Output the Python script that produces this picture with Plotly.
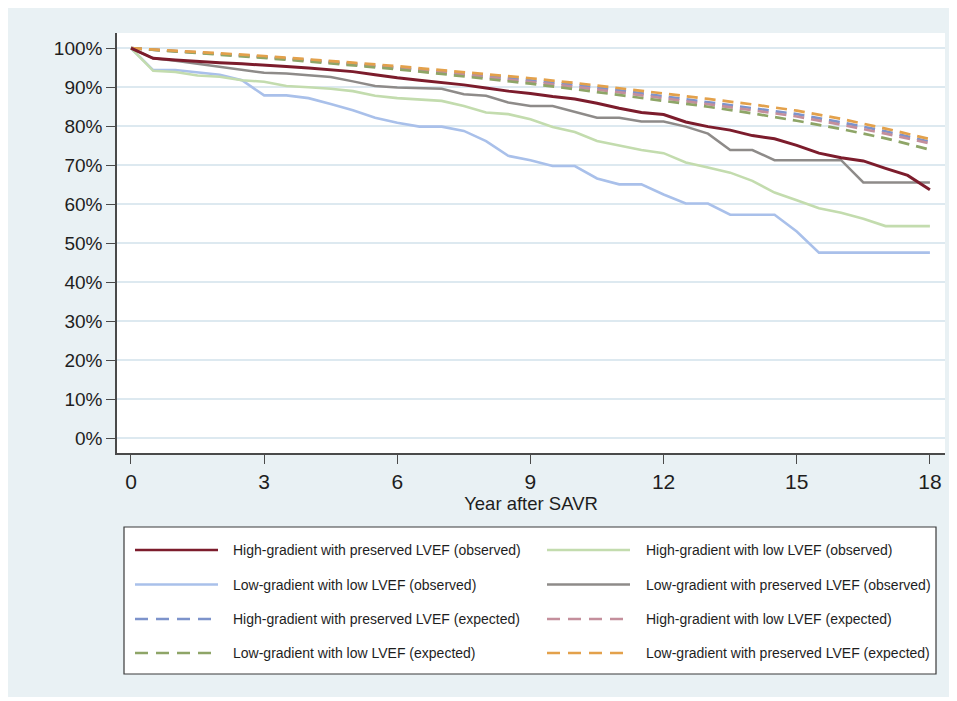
import plotly.graph_objects as go

# ---------------- data ----------------
years_obs = [0, 0.5, 1, 1.5, 2, 2.5, 3, 3.5, 4, 4.5, 5, 5.5, 6, 6.5, 7, 7.5, 8, 8.5, 9,
             9.5, 10, 10.5, 11, 11.5, 12, 12.5, 13, 13.5, 14, 14.5, 15, 15.5, 16, 16.5,
             17, 17.5, 18]

hg_pres_obs = [100, 97.4, 97.0, 96.6, 96.3, 96.0, 95.7, 95.3, 94.9, 94.5, 94.0, 93.2, 92.4,
               91.8, 91.2, 90.6, 89.8, 89.0, 88.4, 87.6, 87.0, 85.9, 84.6, 83.5, 83.0, 81.1,
               79.9, 79.0, 77.6, 76.8, 75.1, 73.1, 71.9, 71.1, 69.2, 67.4, 63.7]
hg_low_obs = [100, 94.2, 93.9, 93.0, 92.7, 91.8, 91.4, 90.3, 90.0, 89.6, 89.0, 87.8, 87.2,
              86.8, 86.5, 85.2, 83.5, 83.1, 81.8, 79.8, 78.5, 76.2, 75.0, 73.9, 73.1, 70.7,
              69.4, 68.1, 66.0, 63.0, 61.0, 59.0, 57.8, 56.3, 54.4, 54.4, 54.4]
lg_low_obs = [100, 94.4, 94.4, 93.8, 93.2, 91.8, 87.9, 87.9, 87.2, 85.7, 84.1, 82.2, 80.9,
              79.9, 79.9, 78.8, 76.2, 72.4, 71.3, 69.8, 69.8, 66.6, 65.1, 65.1, 62.5, 60.2,
              60.2, 57.3, 57.3, 57.3, 53.0, 47.6, 47.6, 47.6, 47.6, 47.6, 47.6]
lg_pres_obs = [100, 97.4, 96.8, 96.0, 95.3, 94.4, 93.7, 93.5, 93.1, 92.6, 91.5, 90.3, 89.9,
               89.7, 89.6, 88.2, 87.8, 86.1, 85.2, 85.2, 83.7, 82.2, 82.2, 81.2, 81.2, 79.9,
               78.1, 73.9, 73.9, 71.3, 71.3, 71.3, 71.3, 65.6, 65.6, 65.6, 65.6]

years_exp = [0, 1, 2, 3, 4, 5, 6, 7, 8, 9, 10, 11, 12, 13, 14, 15, 16, 17, 18]
hg_pres_exp = [100, 99.3, 98.6, 97.8, 97.0, 96.0, 95.1, 94.0, 92.9, 91.8, 90.6, 89.2, 87.7,
               86.2, 84.7, 83.1, 81.0, 78.7, 76.0]
hg_low_exp = [100, 99.3, 98.5, 97.7, 96.8, 95.9, 94.9, 93.8, 92.6, 91.4, 90.1, 88.7, 87.2,
              85.7, 84.1, 82.5, 80.4, 78.1, 75.6]
lg_low_exp = [100, 99.2, 98.4, 97.5, 96.6, 95.6, 94.6, 93.4, 92.2, 90.9, 89.5, 88.0, 86.5,
              85.0, 83.3, 81.4, 79.3, 76.9, 74.0]
lg_pres_exp = [100, 99.4, 98.7, 98.0, 97.2, 96.3, 95.4, 94.4, 93.4, 92.3, 91.1, 89.8, 88.4,
               87.0, 85.6, 84.0, 81.9, 79.4, 76.7]

x_ticks = [0, 3, 6, 9, 12, 15, 18]
y_ticks = [0, 10, 20, 30, 40, 50, 60, 70, 80, 90, 100]
y_tick_labels = ["0%", "10%", "20%", "30%", "40%", "50%", "60%", "70%", "80%", "90%", "100%"]
x_title = "Year after SAVR"

# ---------------- styles ----------------
C_RED = "#7c1c2c"
C_LGREEN = "#c3dcae"
C_LBLUE = "#a9c0ea"
C_GRAY = "#8e8b89"
C_EBLUE = "#7d93cb"
C_EPINK = "#c48f9c"
C_EGREEN = "#8ea567"
C_EORANGE = "#e3a14b"
DASH = "11px,7px"

series = [
    # (name, x, y, color, dash, width)
    ("High-gradient with preserved LVEF (expected)", years_exp, hg_pres_exp, C_EBLUE, DASH, 2.7),
    ("High-gradient with low LVEF (expected)", years_exp, hg_low_exp, C_EPINK, DASH, 2.7),
    ("Low-gradient with low LVEF (expected)", years_exp, lg_low_exp, C_EGREEN, DASH, 2.7),
    ("Low-gradient with preserved LVEF (expected)", years_exp, lg_pres_exp, C_EORANGE, DASH, 2.7),
    ("Low-gradient with low LVEF (observed)", years_obs, lg_low_obs, C_LBLUE, "solid", 2.6),
    ("High-gradient with low LVEF (observed)", years_obs, hg_low_obs, C_LGREEN, "solid", 2.6),
    ("Low-gradient with preserved LVEF (observed)", years_obs, lg_pres_obs, C_GRAY, "solid", 2.5),
    ("High-gradient with preserved LVEF (observed)", years_obs, hg_pres_obs, C_RED, "solid", 3.0),
]

legend_order = [
    ("High-gradient with preserved LVEF (observed)", C_RED, "solid"),
    ("High-gradient with low LVEF (observed)", C_LGREEN, "solid"),
    ("Low-gradient with low LVEF (observed)", C_LBLUE, "solid"),
    ("Low-gradient with preserved LVEF (observed)", C_GRAY, "solid"),
    ("High-gradient with preserved LVEF (expected)", C_EBLUE, "dash"),
    ("High-gradient with low LVEF (expected)", C_EPINK, "dash"),
    ("Low-gradient with low LVEF (expected)", C_EGREEN, "dash"),
    ("Low-gradient with preserved LVEF (expected)", C_EORANGE, "dash"),
]

# page body has an 8px margin; figure is placed at (8, 8) on screen
OFF = 8
W, H = 957 - OFF, 701 - OFF
ML, MT = 117 - OFF, 33 - OFF
MR, MB = 957 - 945, 701 - 453
PW, PH = W - ML - MR, H - MT - MB

def px_x(px):  # screen px -> paper fraction
    return (px - OFF - ML) / PW

def px_y(py):
    return (H - MB - (py - OFF)) / PH

fig = go.Figure()
for name, xs, ys, col, dash, w in series:
    fig.add_trace(go.Scatter(x=xs, y=ys, mode="lines", name=name, showlegend=False,
                             line=dict(color=col, width=w, dash=dash)))

shapes = []
annotations = []
# white strip at the bottom of the page frame
shapes.append(dict(type="rect", xref="paper", yref="paper", x0=px_x(0), x1=px_x(957),
                   y0=px_y(701), y1=px_y(697), fillcolor="white", line=dict(width=0),
                   layer="below"))
# legend box
shapes.append(dict(type="rect", xref="paper", yref="paper", x0=px_x(124), x1=px_x(936),
                   y0=px_y(674), y1=px_y(527), fillcolor="white",
                   line=dict(color="#3a3a3a", width=1.2)))
rows_py = [550, 584.5, 619, 653]
cols = [(135, 218, 231), (547, 630, 644)]
for i, (name, col, kind) in enumerate(legend_order):
    r, c = divmod(i, 2)
    x0, x1, xt = cols[c]
    py = rows_py[r]
    line = dict(color=col, width=2.6)
    if kind == "dash":
        line["dash"] = "13px,8px"
    shapes.append(dict(type="line", xref="paper", yref="paper", x0=px_x(x0), x1=px_x(x1),
                       y0=px_y(py), y1=px_y(py), line=line))
    annotations.append(dict(text=name, xref="paper", yref="paper", x=px_x(xt), y=px_y(py),
                            xanchor="left", yanchor="middle", showarrow=False,
                            font=dict(size=14, color="#1e1e1e")))

fig.update_layout(
    width=W, height=H,
    margin=dict(l=ML, r=MR, t=MT, b=MB, pad=0),
    paper_bgcolor="#e9f1f4",
    plot_bgcolor="white",
    font=dict(family="Liberation Sans, Arial, sans-serif", color="#1e1e1e"),
    showlegend=False,
    shapes=shapes,
    annotations=annotations,
    xaxis=dict(range=[-0.315, 18.34], tickvals=x_ticks, showgrid=False, zeroline=False,
               showline=True, linecolor="#4a4a4a", linewidth=1.5, ticks="outside",
               ticklen=9, tickwidth=1.3, tickcolor="#4a4a4a",
               tickfont=dict(size=21, color="#1e1e1e"),
               title=dict(text=x_title, font=dict(size=18.5, color="#1e1e1e"), standoff=4)),
    yaxis=dict(range=[-3.77, 103.9], tickvals=y_ticks, ticktext=y_tick_labels,
               showgrid=True, gridcolor="#dde9f0", gridwidth=1.5, zeroline=False,
               showline=True, linecolor="#4a4a4a", linewidth=1.5, ticks="outside",
               ticklen=9, tickwidth=1.3, tickcolor="#4a4a4a",
               tickfont=dict(size=19, color="#1e1e1e")),
)

fig.write_html("out.html")
